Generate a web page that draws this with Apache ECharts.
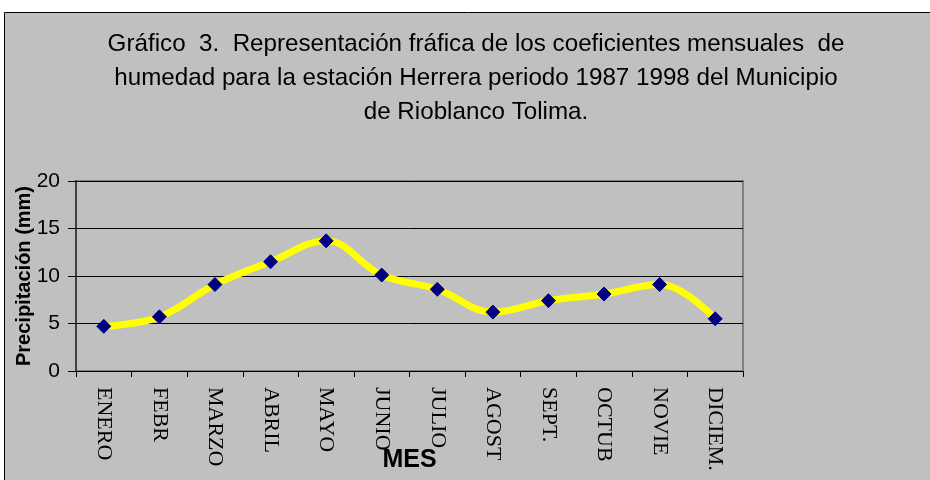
<!DOCTYPE html>
<html><head><meta charset="utf-8">
<script src="https://cdn.jsdelivr.net/npm/echarts@6/dist/echarts.min.js"></script>
<style>html,body{margin:0;padding:0;background:#fff}#c{width:930px;height:480px}</style>
</head><body><div id="c"></div>
<script>
const categories = ['ENERO','FEBR','MARZO','ABRIL','MAYO','JUNIO','JULIO','AGOST','SEPT.','OCTUB','NOVIE','DICIEM.'];
const values = [4.7, 5.7, 9.1, 11.5, 13.7, 10.1, 8.6, 6.2, 7.4, 8.1, 9.1, 5.5];
const titleLines = ['Gráfico  3.  Representación fráfica de los coeficientes mensuales  de','humedad para la estación Herrera periodo 1987 1998 del Municipio','de Rioblanco Tolima.'];

const chart = echarts.init(document.getElementById('c'), null, {renderer:'canvas'});
chart.setOption({
  animation:false,
  backgroundColor:'#fff',
  graphic:[
    {type:'rect', z:-10, shape:{x:4.5,y:12.5,width:940,height:480}, style:{fill:'#C0C0C0', stroke:'#000', lineWidth:1}},
    {type:'rect', z:-5, shape:{x:76,y:181,width:667,height:190}, style:{fill:'none', stroke:'#808080', lineWidth:2}}
  ],
  title:{
    text:titleLines.join('\n'), left:471, top:22, textAlign:'center',
    textStyle:{fontFamily:'Liberation Sans, Arial', fontWeight:'normal', fontSize:24.2, color:'#000', lineHeight:34}
  },
  grid:{left:76, right:187, top:181, bottom:109, containLabel:false, outerBoundsMode:'none'},
  xAxis:{
    type:'category', data:categories, boundaryGap:true,
    name:'MES', nameLocation:'middle', nameGap:77, nameMoveOverlap:false,
    nameTextStyle:{fontFamily:'Liberation Sans, Arial', fontWeight:'bold', fontSize:25, color:'#000'},
    axisLine:{lineStyle:{color:'#000', width:1}},
    axisTick:{show:true, length:6, lineStyle:{color:'#000'}},
    axisLabel:{rotate:-90, margin:16, fontFamily:'Liberation Serif, Times New Roman', fontSize:22, color:'#000'}
  },
  yAxis:{
    type:'value', min:0, max:20, interval:5,
    name:'Precipitación (mm)', nameLocation:'middle', nameGap:42, nameRotate:90, nameMoveOverlap:false,
    nameTextStyle:{fontFamily:'Liberation Sans, Arial', fontWeight:'bold', fontSize:20, color:'#000'},
    axisLine:{show:true, lineStyle:{color:'#404040', width:2}},
    axisTick:{show:true, length:8, lineStyle:{color:'#000'}},
    axisLabel:{margin:16, fontFamily:'Liberation Sans, Arial', fontSize:21, color:'#000'},
    splitLine:{show:true, lineStyle:{color:'#000', width:1}}
  },
  series:[{
    type:'line', data:values, smooth:0.4,
    lineStyle:{color:'#FFFF00', width:7},
    symbol:'diamond', symbolSize:14,
    itemStyle:{color:'#000080', borderColor:'#000080'}
  }]
});
</script></body></html>
